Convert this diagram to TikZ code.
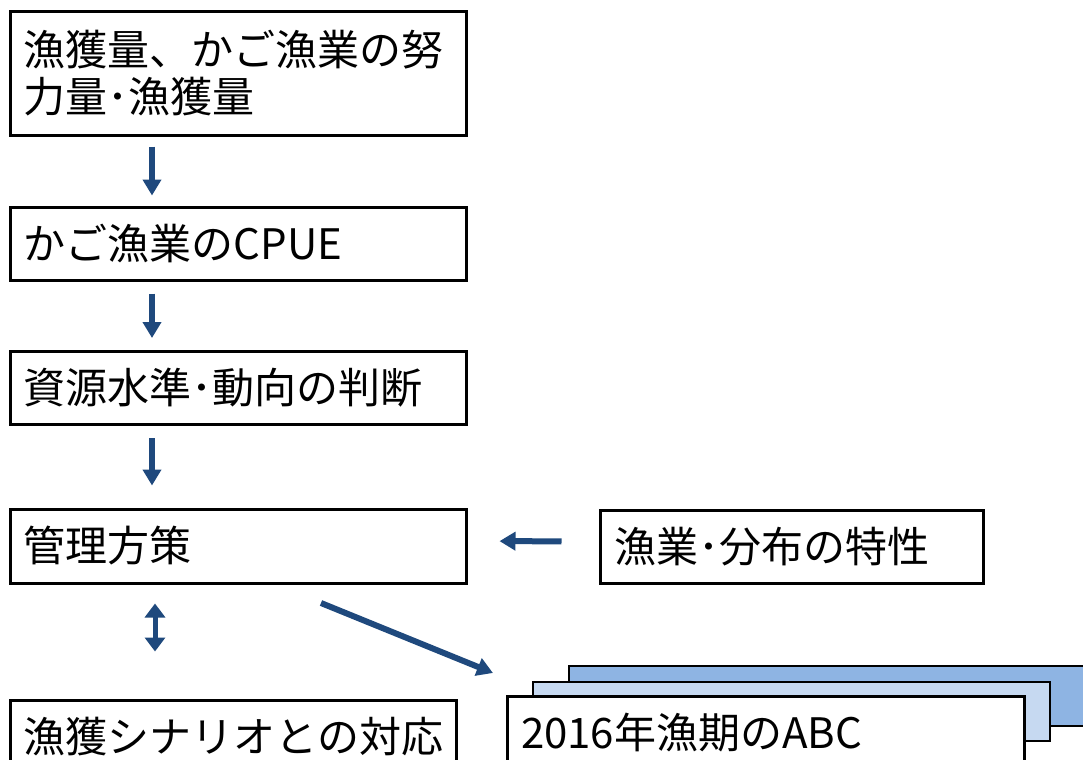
\documentclass[tikz,border=0pt]{standalone}
\usepackage{fontspec}
\setmainfont{Noto Sans CJK JP}
\usetikzlibrary{arrows.meta}
\definecolor{arrblue}{HTML}{1F497D}
\definecolor{backblue}{HTML}{8EB4E3}
\definecolor{midblue}{HTML}{C6D9F1}
\tikzset{
  box/.style={draw,line width=1.5pt,align=left,inner xsep=7pt,inner ysep=0pt,
    text width=214pt,minimum height=36.5pt,font=\fontsize{21pt}{23.5pt}\selectfont},
  sheet/.style={draw,line width=1pt,minimum width=258.5pt,minimum height=30pt,inner sep=0pt},
  arr/.style={draw=arrblue,line width=3pt,-{Triangle[length=8pt,width=9pt]}},
}
\begin{document}
\begin{tikzpicture}[x=0.5pt,y=-0.5pt]
\useasboundingbox (0,0) rectangle (1083,760);
\clip (0,0) rectangle (1083,760);
%
\node[box,minimum height=62pt](b1) at (238,73) {漁獲量、かご漁業の努\\力量･漁獲量};
\node[box](b2) at (238,243.5) {かご漁業のCPUE};
\node[box](b3) at (238,388) {資源水準･動向の判断};
\node[box,minimum height=37pt](b4) at (238,546) {管理方策};
\node[box,text width=177.5pt,minimum height=36.5pt](b5) at (791.5,546.5) {漁業･分布の特性};
\node[box,text width=209pt](b6) at (233,736.5) {漁獲シナリオとの対応};
%
\node[sheet,fill=backblue](abc3) at (827.5,696) {};
\node[sheet,fill=midblue,minimum height=29.5pt](abc2) at (791.5,711.5) {};
\node[box,fill=white,text width=244.5pt](abc) at (765.5,732.5) {2016年漁期のABC};
%
\coordinate (ax) at (152,0);
\coordinate (bx) at (155,0);
\coordinate (d1) at (321,603);
\coordinate (d2) at (493,673);
\draw[arr,shorten <=5pt,shorten >=5pt] (b1.south -| ax)--(b2.north -| ax);
\draw[arr,shorten <=6pt,shorten >=6pt] (b2.south -| ax)--(b3.north -| ax);
\draw[arr,shorten <=6pt,shorten >=11pt] (b3.south -| ax)--(b4.north -| ax);
\draw[arr,shorten <=18.5pt,shorten >=16pt] ([yshift=2.5pt]b5.west)--([yshift=2.5pt]b4.east);
\draw[arr,{Triangle[length=7pt,width=10pt]}-{Triangle[length=7pt,width=10pt]},line width=2.5pt,
  shorten <=9.5pt,shorten >=23.5pt] (b4.south -| bx)--(b6.north -| bx);
\draw[arr] (d1)--(d2);
\end{tikzpicture}
\end{document}
